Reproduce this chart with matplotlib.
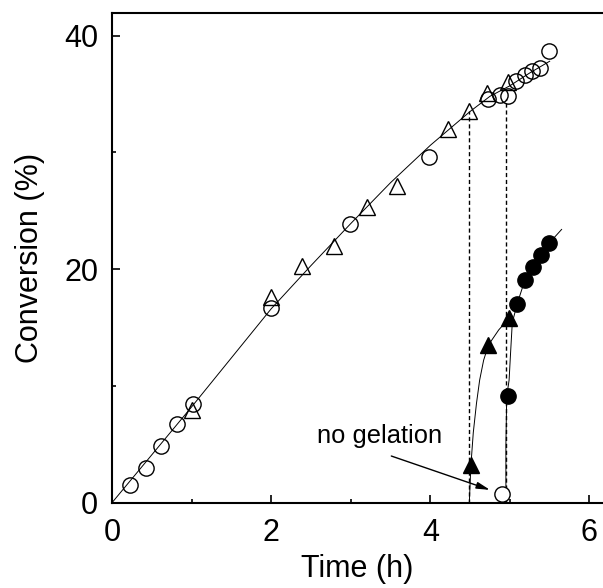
import matplotlib

matplotlib.use("Agg")
import matplotlib.pyplot as plt
from matplotlib.ticker import MultipleLocator

plt.rcParams["font.family"] = ["Liberation Sans", "DejaVu Sans"]

# open circles / open triangles: pre-gel conversion
circ_t = [0.23, 0.43, 0.62, 0.82, 1.02, 2.0, 2.99, 3.98,
          4.73, 4.88, 4.98, 5.08, 5.19, 5.28, 5.38, 5.49]
circ_c = [1.5, 3.0, 4.9, 6.7, 8.45, 16.65, 23.9, 29.6,
          34.6, 34.9, 34.8, 36.1, 36.6, 37.0, 37.2, 38.7]
tri_t = [1.0, 2.0, 2.39, 2.79, 3.2, 3.58, 4.22, 4.49, 4.71, 4.98]
tri_c = [7.9, 17.6, 20.3, 22.0, 25.3, 27.15, 32.0, 33.55, 35.1, 36.0]

# filled symbols: after gelation
ftri_t = [4.51, 4.73, 4.99]
ftri_c = [3.2, 13.5, 15.8]
fcirc_t = [4.97, 5.09, 5.19, 5.29, 5.39, 5.49]
fcirc_c = [9.1, 17.0, 19.1, 20.2, 21.2, 22.2]

# no-gelation point
nogel_t = [4.9]
nogel_c = [0.75]

# guide curves
fit_t = [0, 0.5, 1.0, 1.5, 2.0, 2.5, 3.0, 3.5, 4.0, 4.5, 4.75, 5.0, 5.25, 5.5]
fit_c = [0, 4.1, 8.2, 12.4, 16.6, 20.3, 23.9, 27.4, 30.6, 33.5, 34.8, 35.7, 36.8, 37.8]
gel_a_t = [4.49, 4.51, 4.54, 4.58, 4.62, 4.67, 4.73, 4.86, 4.99]
gel_a_c = [0.0, 3.2, 6.0, 8.5, 10.5, 12.2, 13.5, 14.8, 15.8]
gel_b_t = [4.95, 4.95, 4.96, 4.99, 5.01, 5.03, 5.09, 5.19, 5.29, 5.39, 5.49, 5.65]
gel_b_c = [0.0, 5.0, 9.1, 10.5, 13.0, 15.4, 17.0, 19.1, 20.2, 21.2, 22.2, 23.4]

# gel points (dashed drop lines)
gel_t = [4.48, 4.95]
gel_c = [33.5, 34.6]

fig = plt.figure(figsize=(6.03, 5.88), dpi=100)
ax = fig.add_axes([0.1857, 0.145, 0.8143, 0.8323])

ax.plot(fit_t, fit_c, color="black", lw=0.7)
ax.plot(gel_a_t, gel_a_c, color="black", lw=0.7)
ax.plot(gel_b_t, gel_b_c, color="black", lw=0.7)
for t, c in zip(gel_t, gel_c):
    ax.plot([t, t], [0, c], color="black", lw=1.0, linestyle=(0, (3, 2)))

ms = 11
ax.plot(tri_t, tri_c, "^", ms=ms, mfc="none", mec="black", mew=1.0)
ax.plot(circ_t, circ_c, "o", ms=ms, mfc="none", mec="black", mew=1.0)
ax.plot(ftri_t, ftri_c, "^", ms=ms, color="black")
ax.plot(fcirc_t, fcirc_c, "o", ms=ms, color="black")
ax.plot(nogel_t, nogel_c, "o", ms=ms, mfc="white", mec="black", mew=1.0, clip_on=False)

ax.annotate("", xy=(4.75, 1.1), xytext=(3.51, 4.0),
            arrowprops=dict(arrowstyle="-|>,head_length=0.8,head_width=0.2",
                            color="black", lw=1.0, shrinkA=0, shrinkB=0))
ax.text(2.57, 5.09, "no gelation", fontsize=18.4, va="baseline", ha="left")

ax.set_xlim(0, 6.17)
ax.set_ylim(0, 41.9)
ax.xaxis.set_major_locator(MultipleLocator(2))
ax.xaxis.set_minor_locator(MultipleLocator(1))
ax.yaxis.set_major_locator(MultipleLocator(20))
ax.yaxis.set_minor_locator(MultipleLocator(10))
ax.tick_params(which="both", direction="in", labelsize=22, width=1.2)
ax.tick_params(which="major", length=6)
ax.tick_params(which="minor", length=3)
ax.tick_params(axis="x", which="major", pad=11)
ax.tick_params(axis="y", which="major", pad=10)
ax.spines["right"].set_visible(False)
for s in ("left", "bottom", "top"):
    ax.spines[s].set_linewidth(1.5)

ax.set_xlabel("Time (h)", fontsize=22, labelpad=4)
ax.set_ylabel("Conversion (%)", fontsize=22, labelpad=14)

fig.savefig("out.png", dpi=100)
